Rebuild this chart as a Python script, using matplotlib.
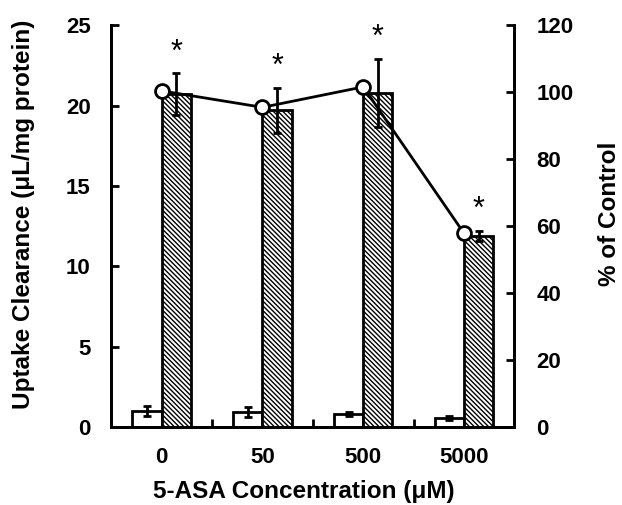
import numpy as np
import matplotlib
matplotlib.use("Agg")
from matplotlib import pyplot as plt

plt.rcParams['font.family'] = ['Liberation Sans', 'DejaVu Sans']
plt.rcParams['font.weight'] = 'bold'
plt.rcParams['hatch.linewidth'] = 1.0

conc = ["0", "50", "500", "5000"]
# blanco: control sin transporte, rayado: con transporte
blanco = [1.0, 0.93, 0.8, 0.58]
blanco_err = [0.3, 0.3, 0.12, 0.12]
rayado = [20.7, 19.7, 20.8, 11.9]
rayado_err = [1.3, 1.4, 2.1, 0.3]
pct_control = [100.4, 95.5, 101.6, 57.9]

x = np.arange(len(conc))
w = 0.29

fig = plt.figure(figsize=(6.22, 5.05), dpi=100)
ax = fig.add_axes([0.179, 0.154, 0.648, 0.796])

ax.bar(x - w/2, blanco, w, color='white', edgecolor='black', linewidth=2, zorder=2)
ax.errorbar(x - w/2, blanco, yerr=blanco_err, fmt='none', ecolor='black',
            elinewidth=2, capsize=3, capthick=2, zorder=3)
ax.bar(x + w/2, rayado, w, color='white', edgecolor='black', linewidth=2,
       hatch='\\' * 7, zorder=2)
ax.errorbar(x + w/2, rayado, yerr=rayado_err, fmt='none', ecolor='black',
            elinewidth=2, capsize=3, capthick=2, zorder=3)
for xi, yi, ei in zip(x, rayado, rayado_err):
    ax.text(xi + w/2, yi + ei + 1.3, '*', ha='center', va='center',
            fontsize=22, fontweight='normal')

ax.set_xlim(-0.5, 3.5)
ax.set_ylim(0, 25)
ax.set_yticks([0, 5, 10, 15, 20, 25])
ax.set_xticks([0.5, 1.5, 2.5])
ax.set_xticklabels([])
ax.set_xticks(x, minor=True)
ax.set_xticklabels(conc, minor=True)
ax.tick_params(axis='x', which='major', direction='in', length=6, width=2)
ax.tick_params(axis='x', which='minor', length=0, pad=14, labelsize=16)
ax.tick_params(axis='y', direction='in', length=6, width=2, labelsize=16, pad=15)
ax.set_ylabel("Uptake Clearance (μL/mg protein)", fontsize=17.5, fontweight='bold')
ax.set_xlabel("5-ASA Concentration (μM)", fontsize=17.5, fontweight='bold')
ax.yaxis.label.set_va('center')
ax.yaxis.set_label_coords(-0.218, 0.53)
ax.xaxis.label.set_va('center')
ax.xaxis.set_label_coords(0.477, -0.16)
for s in ax.spines.values():
    s.set_linewidth(2)

ax2 = ax.twinx()
ax2.plot(x, pct_control, color='black', linewidth=2, marker='o', markersize=10,
         markerfacecolor='white', markeredgecolor='black', markeredgewidth=2, zorder=4)
ax2.set_ylim(0, 120)
ax2.set_yticks([0, 20, 40, 60, 80, 100, 120])
ax2.tick_params(axis='y', direction='in', length=6, width=2, labelsize=16, pad=16)
ax2.set_ylabel("% of Control", fontsize=17.5, fontweight='bold')
ax2.yaxis.label.set_va('center')
ax2.yaxis.set_label_coords(1.235, 0.53)
for s in ax2.spines.values():
    s.set_linewidth(2)
ax2.spines['top'].set_visible(False)
ax.spines['top'].set_visible(False)

plt.savefig("out.png", dpi=100)
